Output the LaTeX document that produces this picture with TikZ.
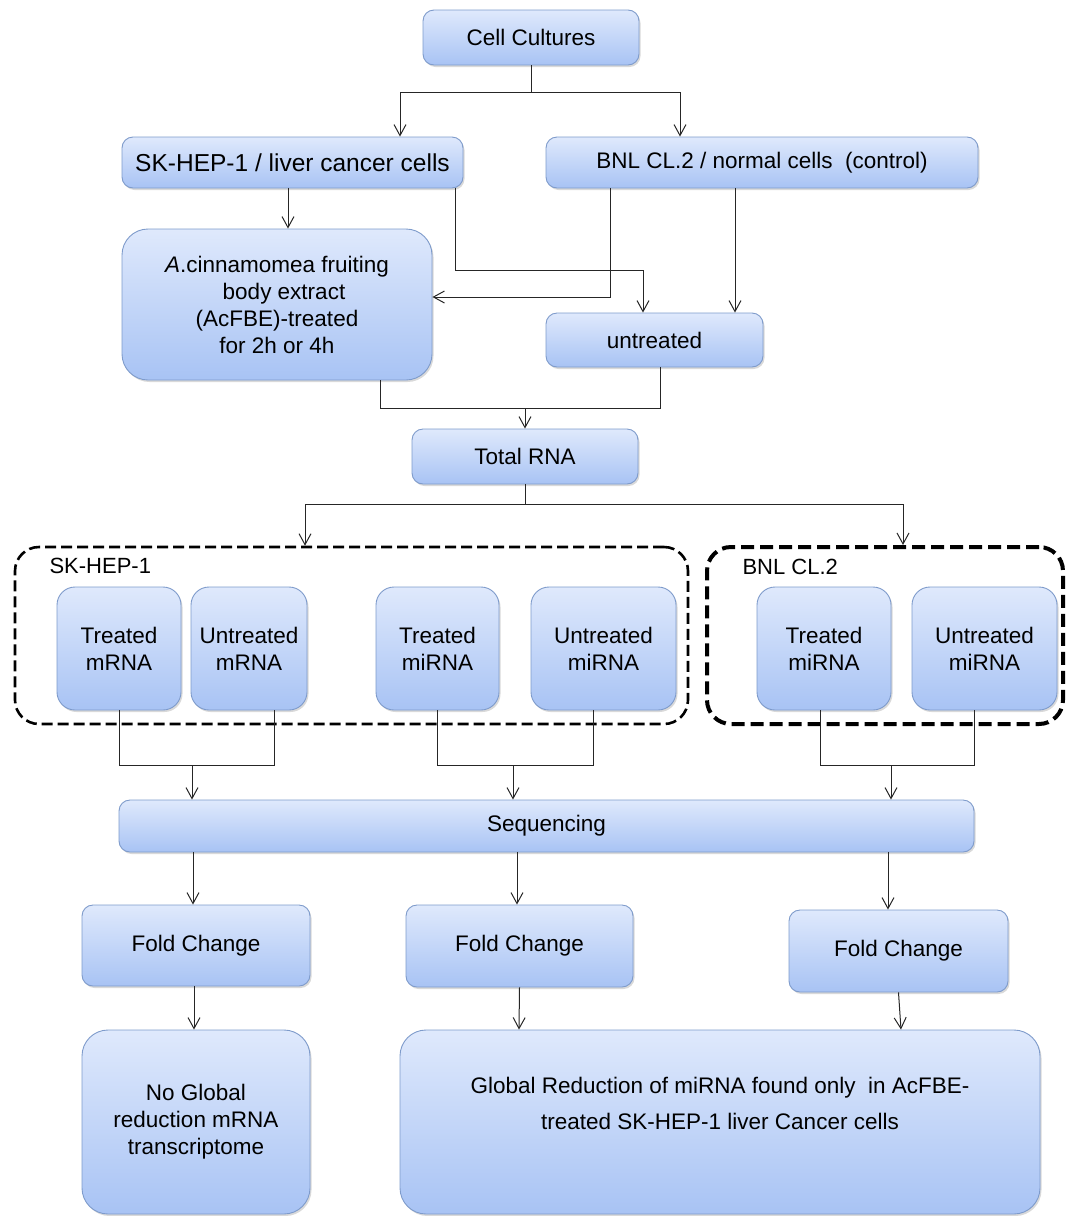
\documentclass[tikz,border=0pt]{standalone}
\usepackage{fontspec}
\setmainfont{Liberation Sans}
\usetikzlibrary{arrows.meta,shadows}

\definecolor{boxtop}{HTML}{DFE9FC}
\definecolor{boxbot}{HTML}{A8C3F4}
\definecolor{boxline}{HTML}{7E9BCB}

\tikzset{
	box/.style={draw=boxline, line width=0.9pt, rounded corners=11pt, top color=boxtop, bottom color=boxbot,
		align=center, inner sep=2pt, font=\fontsize{22.5}{27}\selectfont,
		drop shadow={shadow xshift=1.5pt, shadow yshift=-2pt, opacity=0.3}},
	tallbox/.style={box, rounded corners=18pt},
	bigbox/.style={box, rounded corners=26pt},
	group/.style={draw=black, rounded corners=24pt, line width=2.6pt, dash pattern=on 11pt off 5pt},
	link/.style={line width=1pt, draw=black!85},
}

\begin{document}
\begin{tikzpicture}[x=1pt,y=-1pt,>={Straight Barb[length=11pt,width=12pt]}]
		\useasboundingbox (0,0) rectangle (1067,1216);
		% dashed groups
		\node[group, minimum width=673, minimum height=177] (skgrp) at (351.5,635.5) {};
		\node[group, line width=4pt, dash pattern=on 13pt off 6pt, minimum width=356, minimum height=177] (bnlgrp) at (885,635.5) {};
		\node[anchor=west, font=\fontsize{22}{25}\selectfont] (sklab) at (46,566) {SK-HEP-1};
		\node[anchor=west, font=\fontsize{22}{25}\selectfont] (bnllab) at (739,567) {BNL CL.2};
		% boxes
		\node[box, minimum width=216, minimum height=55] (cells) at (531,37.5) {Cell Cultures};
		\node[box, minimum width=341, minimum height=51, font=\fontsize{24.5}{28}\selectfont] (sk) at (292.5,162.5) {SK-HEP-1 / liver cancer cells};
		\node[box, minimum width=432, minimum height=51] (bnl) at (762,162.5) {BNL CL.2 / normal cells~ (control)};
		\node[bigbox, minimum width=310, minimum height=151] (acf) at (277,304.5) {\textit{A}.cinnamomea fruiting\\ \hspace{14pt}body extract\\ (AcFBE)-treated\\ for 2h or 4h};
		\node[box, minimum width=217, minimum height=54] (unt) at (654.5,340) {untreated};
		\node[box, minimum width=226, minimum height=55] (total) at (525,456.5) {Total RNA};
		\node[tallbox, minimum width=124, minimum height=123] (tm) at (119,648.5) {Treated\\ mRNA};
		\node[tallbox, minimum width=116, minimum height=123] (um) at (249,648.5) {Untreated\\ mRNA};
		\node[tallbox, minimum width=123, minimum height=123] (ti) at (437.5,648.5) {Treated\\ miRNA};
		\node[tallbox, minimum width=145, minimum height=123] (ui) at (603.5,648.5) {Untreated\\ miRNA};
		\node[tallbox, minimum width=134, minimum height=123] (bt) at (824,648.5) {Treated\\ miRNA};
		\node[tallbox, minimum width=145, minimum height=123] (bu) at (984.5,648.5) {Untreated\\ miRNA};
		\node[box, minimum width=855, minimum height=52] (seq) at (546.5,826) {Sequencing};
		\node[box, minimum width=228, minimum height=81] (fold1) at (196,945.5) {Fold Change};
		\node[box, minimum width=227, minimum height=82] (fold2) at (519.5,946) {Fold Change};
		\node[box, minimum width=219, minimum height=82] (fold3) at (898.5,951) {Fold Change};
		\node[bigbox, minimum width=228, minimum height=184] (noglob) at (196,1122) {No Global\\ reduction mRNA\\ transcriptome};
		\node[bigbox, minimum width=640, minimum height=184, font=\fontsize{22.5}{36}\selectfont] (glob) at (720,1122) {Global Reduction of miRNA found only~ in AcFBE-\\ treated SK-HEP-1 liver Cancer cells\\[2pt]};
		% split and join points
		\coordinate (split1) at (531,92);
		\coordinate (join1) at (525,408);
		\coordinate (split2) at (525,504);
		\coordinate (join2) at (192,765);
		\coordinate (join3) at (513,765);
		\coordinate (join4) at (891,765);
		% connectors
		\draw[link] (cells) -- (split1);
		\draw[link,->] (split1) -| ([xshift=107.5]sk.north);
		\draw[link,->] (split1) -| ([xshift=-82]bnl.north);
		\draw[link,->] ([xshift=-4.5]sk.south) -- ([xshift=11]acf.north);
		\draw[link,->] ([xshift=162.5]sk.south) -- ++(0,82) -| ([xshift=-11.5]unt.north);
		\draw[link,->] ([xshift=-152]bnl.south) |- ([yshift=7.5]acf.east);
		\draw[link,->] ([xshift=-27]bnl.south) -- ([xshift=80.5]unt.north);
		\draw[link] ([xshift=103]acf.south) -- ++(0,28) -| ([xshift=5.5]unt.south);
		\draw[link,->] (join1) -- (total);
		\draw[link] (total) -- (split2);
		\draw[link,->] (split2) -| ([xshift=-46.5]skgrp.north);
		\draw[link,->] (split2) -| ([xshift=18]bnlgrp.north);
		\draw[link] (tm.south) -- ++(0,55) -| ([xshift=25]um.south);
		\draw[link] (ti.south) -- ++(0,55) -| ([xshift=-10.5]ui.south);
		\draw[link] ([xshift=-4]bt.south) -- ++(0,55) -| ([xshift=-10.5]bu.south);
		\draw[link,->] (join2) -- (join2 |- seq.north);
		\draw[link,->] (join3) -- (join3 |- seq.north);
		\draw[link,->] (join4) -- (join4 |- seq.north);
		\draw[link,->] ([xshift=-353.5]seq.south) -- ([xshift=-3]fold1.north);
		\draw[link,->] ([xshift=-29.5]seq.south) -- ([xshift=-2.5]fold2.north);
		\draw[link,->] ([xshift=341.5]seq.south) -- ([xshift=-10.5]fold3.north);
		\draw[link,->] ([xshift=-2]fold1.south) -- ([xshift=-2]noglob.north);
		\draw[link,->] (fold2.south) -- ([xshift=-201]glob.north);
		\draw[link,->] (fold3.south) -- ([xshift=181]glob.north);
	\end{tikzpicture}
\end{document}
